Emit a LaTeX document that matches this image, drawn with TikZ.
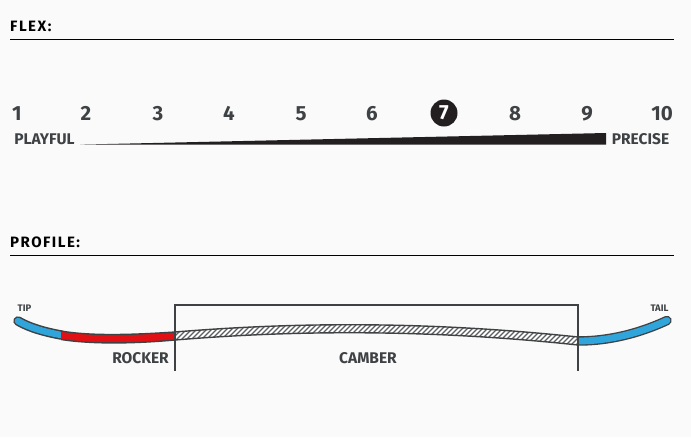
\documentclass[tikz,border=0pt]{standalone}
\usepackage{fontspec}
\setmainfont{Fira Sans}
\newfontfamily\headfont[LetterSpace=10]{Fira Sans}
\newfontfamily\labfont{Fira Sans}
\definecolor{bg}{HTML}{FAFAFA}
\definecolor{ink}{HTML}{231F20}
\definecolor{grey}{HTML}{3F4244}
\definecolor{skyb}{HTML}{2FA5DC}
\definecolor{redb}{HTML}{E01015}
\tikzset{
  headtxt/.style={font=\headfont\bfseries\fontsize{15}{16}\selectfont,text=black,anchor=base west,inner sep=0pt},
  headrule/.style={draw=black,line width=1pt},
  numtxt/.style={font=\labfont\bfseries\fontsize{20.5}{22}\selectfont,text=grey,inner sep=0pt,anchor=base},
  scaletxt/.style={font=\labfont\bfseries\fontsize{15.5}{17}\selectfont,text=grey,inner sep=0pt,anchor=base},
  smalltxt/.style={font=\labfont\bfseries\fontsize{9.5}{11}\selectfont,text=grey,inner sep=0pt,anchor=base},
  bigtxt/.style={font=\labfont\bfseries\fontsize{15.5}{17}\selectfont,text=grey,inner sep=0pt},
  frameline/.style={draw=grey,line width=1.1pt},
  outl/.style={draw=grey,line width=1.4pt},
}
\begin{document}
\begin{tikzpicture}[x=1pt,y=-1pt]
\useasboundingbox[fill=bg] (0,0) rectangle (691,437);
\node[headtxt] (flex) at (10,31) {FLEX:};
\coordinate (fa) at (10,39.5); \coordinate (fb) at (674,39.5);
\draw[headrule] (fa) -- (fb);
\node[headtxt] (prof) at (10,247) {PROFILE:};
\coordinate (pa) at (10,255.5); \coordinate (pb) at (674,255.5);
\draw[headrule] (pa) -- (pb);
% scale
\foreach \n/\x in {1/17,2/86,3/158,4/229,5/301,6/372,8/515,9/587,10/662}
  \node[numtxt] (n\n) at (\x,120.5) {\n};
\node[circle,fill=ink,minimum size=27pt,inner sep=0pt,text=white,font=\labfont\bfseries\fontsize{20.5}{22}\selectfont] (n7) at (444,113) {7};
\node[scaletxt] (play) at (44.5,144) {PLAYFUL};
\node[scaletxt] (prec) at (640.5,144) {PRECISE};
\fill[ink] (80,144.6) -- (606,133) -- (606,144.6) -- cycle;
% tip: rounded blue
\draw[grey,line width=9.5pt,line cap=round] (18,321) .. controls (30,328) and (45,332) .. (61,335);
\draw[skyb,line width=6.5pt,line cap=round] (18,321) .. controls (30,328) and (45,332) .. (61,335);
% rocker
\fill[redb] (61,331) .. controls (90,336) and (130,335) .. (175,332) -- (175,340) .. controls (130,344) and (90,344) .. (61,339.5) -- cycle;
\draw[outl] (61,331) .. controls (90,336) and (130,335) .. (175,332);
\draw[outl] (61,339.5) .. controls (90,344) and (130,344) .. (175,340);
% camber
\fill[white] (175,332) .. controls (260,325) and (400,318) .. (578,337) -- (578,345) .. controls (400,326) and (260,333) .. (175,340) -- cycle;
\begin{scope}
\clip (175,332) .. controls (260,325) and (400,318) .. (578,337) -- (578,345) .. controls (400,326) and (260,333) .. (175,340) -- cycle;
\foreach \i in {165,170,...,590}
  \draw[grey!85,line width=1.3pt] (\i,346) -- (\i+26,320);
\end{scope}
\draw[outl] (175,332) .. controls (260,325) and (400,318) .. (578,337);
\draw[outl] (175,340) .. controls (260,333) and (400,326) .. (578,345);
% tail
\begin{scope}
\clip (578,300) rectangle (691,360);
\draw[grey,line width=9.5pt,line cap=round] (667,320.5) .. controls (640,333) and (610,341) .. (578,341);
\draw[skyb,line width=6.8pt,line cap=round] (667,320.5) .. controls (640,333) and (610,341) .. (578,341);
\end{scope}
% frame
\coordinate (ca) at (175,371); \coordinate (cb) at (175,305);
\coordinate (cc) at (578,305); \coordinate (cd) at (578,371);
\draw[frameline] (ca) -- (cb) -- (cc) -- (cd);
\node[smalltxt] (tip) at (24.5,311) {TIP};
\node[smalltxt] (tail) at (659.5,311) {TAIL};
\node[bigtxt,anchor=base east] (rock) at (169,363) {ROCKER};
\node[bigtxt,anchor=base] (camb) at (368,363) {CAMBER};
\end{tikzpicture}
\end{document}
